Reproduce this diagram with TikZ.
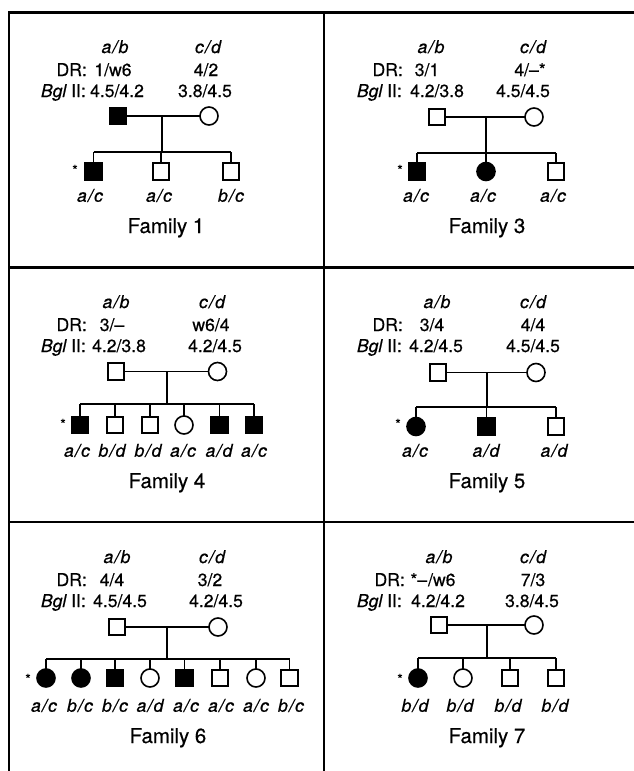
\documentclass[tikz,border=0pt]{standalone}
\usepackage{fontspec}
\setmainfont{TeX Gyre Heros}[FakeBold=0.5]
% genotype pair with the slash set a little apart
\newcommand\gt[2]{#1\kern1.2pt/\kern1.2pt#2}
\begin{document}
\begin{tikzpicture}[x=1pt,y=-1pt,
  sym/.style={draw, line width=1.6pt, inner sep=0pt, outer sep=0pt},
  male/.style={sym, rectangle, minimum size=16.5pt},
  female/.style={sym, circle, minimum size=18pt},
  aff/.style={fill=black},
  body/.style={font=\fontsize{17.6}{21}\selectfont, inner sep=0pt, anchor=base},
  geno/.style={body, font=\fontsize{17.6}{21}\selectfont\itshape},
  lab/.style={body, anchor=base east},
  title/.style={body, font=\fontsize{20.5}{24}\selectfont},
  proband/.style={font=\fontsize{14}{14}\selectfont, inner sep=0pt, anchor=base},
  pline/.style={line width=1.8pt},
  frame/.style={line width=2.2pt}]
\useasboundingbox (0,0) rectangle (634,771);

% panel frame
\draw[frame] (9,771) -- (9,12.5) -- (634,12.5);
\draw[frame] (324,12.5) -- (324,771);
\draw[frame] (9,267.5) -- (634,267.5);
\draw[frame] (9,522) -- (634,522);

% ---------------- Family 1 ----------------
\node[geno] (f1ab) at (115,53) {\gt ab};
\node[geno] (f1cd) at (208,53) {\gt cd};
\node[lab]  (f1dr) at (87,76) {DR:};
\node[body] (f1d1) at (113,76) {1/w6};
\node[body] (f1d2) at (206,76) {4/2};
\node[lab]  (f1bg) at (86,97) {{\itshape Bgl} II:};
\node[body] (f1b1) at (117,97) {4.5/4.2};
\node[body] (f1b2) at (205,97) {3.8/4.5};
\node[male,aff] (f1fa) at (118,116) {};
\node[female] (f1mo) at (209,116) {};
\coordinate (f1m) at (162,116);
\coordinate (f1s) at (162,152);
\node[male,aff] (f1c1) at (93.5,171.5) {};
\node[male] (f1c2) at (161,171.5) {};
\node[male] (f1c3) at (231,171.5) {};
\node[proband] (f1p) at (75,175) {*};
\draw[pline] (f1fa) -- (f1mo);
\draw[pline] (f1m) -- (f1s);
\draw[pline] (f1c1.north |- f1s) -- (f1c3.north |- f1s);
\foreach \k in {1,2,3} \draw[pline] (f1c\k.north |- f1s) -- (f1c\k.north);
\node[geno] (f1g1) at (90,201.7) {\gt ac};
\node[geno] (f1g2) at (159,201.7) {\gt ac};
\node[geno] (f1g3) at (231,201.7) {\gt bc};
\node[title] (f1t) at (166,233) {Family 1};

% ---------------- Family 3 ----------------
\node[geno] (f3ab) at (431,53) {\gt ab};
\node[geno] (f3cd) at (533,53) {\gt cd};
\node[lab]  (f3dr) at (403,76) {DR:};
\node[body] (f3d1) at (427,76) {3/1};
\node[body] (f3d2) at (530,76) {4/–*};
\node[lab]  (f3bg) at (402,97) {{\itshape Bgl} II:};
\node[body] (f3b1) at (437,97) {4.2/3.8};
\node[body] (f3b2) at (523,97) {4.5/4.5};
\node[male] (f3fa) at (437,117) {};
\node[female] (f3mo) at (534,117) {};
\coordinate (f3m) at (486,117);
\coordinate (f3s) at (486,153);
\node[male,aff] (f3c1) at (417,171.5) {};
\node[female,aff] (f3c2) at (486,171.5) {};
\node[male] (f3c3) at (556,171.5) {};
\node[proband] (f3p) at (400,175) {*};
\draw[pline] (f3fa) -- (f3mo);
\draw[pline] (f3m) -- (f3s);
\draw[pline] (f3c1.north |- f3s) -- (f3c3.north |- f3s);
\foreach \k in {1,2,3} \draw[pline] (f3c\k.north |- f3s) -- (f3c\k.north);
\node[geno] (f3g1) at (416,201.7) {\gt ac};
\node[geno] (f3g2) at (483,201.7) {\gt ac};
\node[geno] (f3g3) at (553,201.7) {\gt ac};
\node[title] (f3t) at (487,233) {Family 3};

% ---------------- Family 4 ----------------
\node[geno] (f4ab) at (116,308) {\gt ab};
\node[geno] (f4cd) at (212,308) {\gt cd};
\node[lab]  (f4dr) at (87,331) {DR:};
\node[body] (f4d1) at (112,331) {3/–};
\node[body] (f4d2) at (211,331) {w6/4};
\node[lab]  (f4bg) at (86,352) {{\itshape Bgl} II:};
\node[body] (f4b1) at (119,352) {4.2/3.8};
\node[body] (f4b2) at (215,352) {4.2/4.5};
\node[male] (f4fa) at (116,371.5) {};
\node[female] (f4mo) at (217.5,371.5) {};
\coordinate (f4m) at (167,371.5);
\coordinate (f4s) at (167,404);
\node[male,aff] (f4c1) at (80,425) {};
\node[male] (f4c2) at (115,425) {};
\node[male] (f4c3) at (150,425) {};
\node[female] (f4c4) at (184,425) {};
\node[male,aff] (f4c5) at (219.5,425) {};
\node[male,aff] (f4c6) at (254,425) {};
\node[proband] (f4p) at (63,429) {*};
\draw[pline] (f4fa) -- (f4mo);
\draw[pline] (f4m) -- (f4s);
\draw[pline] (f4c1.north |- f4s) -- (f4c6.north |- f4s);
\foreach \k in {1,...,6} \draw[pline] (f4c\k.north |- f4s) -- (f4c\k.north);
\node[geno] (f4g1) at (77,456.7) {\gt ac};
\node[geno] (f4g2) at (112,456.7) {\gt bd};
\node[geno] (f4g3) at (148,456.7) {\gt bd};
\node[geno] (f4g4) at (183,456.7) {\gt ac};
\node[geno] (f4g5) at (219,456.7) {\gt ad};
\node[geno] (f4g6) at (254,456.7) {\gt ac};
\node[title] (f4t) at (167,488) {Family 4};

% ---------------- Family 5 ----------------
\node[geno] (f5ab) at (437,308) {\gt ab};
\node[geno] (f5cd) at (533,308) {\gt cd};
\node[lab]  (f5dr) at (403,331) {DR:};
\node[body] (f5d1) at (432,331) {3/4};
\node[body] (f5d2) at (533,331) {4/4};
\node[lab]  (f5bg) at (402,352) {{\itshape Bgl} II:};
\node[body] (f5b1) at (436,352) {4.2/4.5};
\node[body] (f5b2) at (533,352) {4.5/4.5};
\node[male] (f5fa) at (438,372.5) {};
\node[female] (f5mo) at (536,372.5) {};
\coordinate (f5m) at (487,372.5);
\coordinate (f5s) at (487,407);
\node[female,aff] (f5c1) at (416,426.5) {};
\node[male,aff] (f5c2) at (486.5,426.5) {};
\node[male] (f5c3) at (556,426.5) {};
\node[proband] (f5p) at (398,429) {*};
\draw[pline] (f5fa) -- (f5mo);
\draw[pline] (f5m) -- (f5s);
\draw[pline] (f5c1.north |- f5s) -- (f5c3.north |- f5s);
\foreach \k in {1,2,3} \draw[pline] (f5c\k.north |- f5s) -- (f5c\k.north);
\node[geno] (f5g1) at (415,456.7) {\gt ac};
\node[geno] (f5g2) at (486,456.7) {\gt ad};
\node[geno] (f5g3) at (554,456.7) {\gt ad};
\node[title] (f5t) at (487,488) {Family 5};

% ---------------- Family 6 ----------------
\node[geno] (f6ab) at (117,563) {\gt ab};
\node[geno] (f6cd) at (212,563) {\gt cd};
\node[lab]  (f6dr) at (87,586) {DR:};
\node[body] (f6d1) at (112,586) {4/4};
\node[body] (f6d2) at (210,586) {3/2};
\node[lab]  (f6bg) at (86,607) {{\itshape Bgl} II:};
\node[body] (f6b1) at (120,607) {4.5/4.5};
\node[body] (f6b2) at (216,607) {4.2/4.5};
\node[male] (f6fa) at (117,627) {};
\node[female] (f6mo) at (218,627) {};
\coordinate (f6m) at (167,627);
\coordinate (f6s) at (167,659);
\node[female,aff] (f6c1) at (46,678) {};
\node[female,aff] (f6c2) at (81,678) {};
\node[male,aff] (f6c3) at (115,678) {};
\node[female] (f6c4) at (150,678) {};
\node[male,aff] (f6c5) at (184.5,678) {};
\node[male] (f6c6) at (220,678) {};
\node[female] (f6c7) at (256,678) {};
\node[male] (f6c8) at (289.5,678) {};
\node[proband] (f6p) at (28,684) {*};
\draw[pline] (f6fa) -- (f6mo);
\draw[pline] (f6m) -- (f6s);
\draw[pline] (f6c1.north |- f6s) -- (f6c8.north |- f6s);
\foreach \k in {1,...,8} \draw[pline] (f6c\k.north |- f6s) -- (f6c\k.north);
\node[geno] (f6g1) at (44,711.7) {\gt ac};
\node[geno] (f6g2) at (80,711.7) {\gt bc};
\node[geno] (f6g3) at (115,711.7) {\gt bc};
\node[geno] (f6g4) at (150,711.7) {\gt ad};
\node[geno] (f6g5) at (186,711.7) {\gt ac};
\node[geno] (f6g6) at (221,711.7) {\gt ac};
\node[geno] (f6g7) at (256,711.7) {\gt ac};
\node[geno] (f6g8) at (291,711.7) {\gt bc};
\node[title] (f6t) at (168,743) {Family 6};

% ---------------- Family 7 ----------------
\node[geno] (f7ab) at (439,563) {\gt ab};
\node[geno] (f7cd) at (533,563) {\gt cd};
\node[lab]  (f7dr) at (405,586) {DR:};
\node[body] (f7d1) at (433,586) {*–\kern1pt/w6};
\node[body] (f7d2) at (533,586) {7/3};
\node[lab]  (f7bg) at (402,607) {{\itshape Bgl} II:};
\node[body] (f7b1) at (438,607) {4.2/4.2};
\node[body] (f7b2) at (532,607) {3.8/4.5};
\node[male] (f7fa) at (439,625) {};
\node[female] (f7mo) at (534,625) {};
\coordinate (f7m) at (487,625);
\coordinate (f7s) at (487,658);
\node[female,aff] (f7c1) at (418,678) {};
\node[female] (f7c2) at (463,678) {};
\node[male] (f7c3) at (510,678) {};
\node[male] (f7c4) at (556,678) {};
\node[proband] (f7p) at (400,684) {*};
\draw[pline] (f7fa) -- (f7mo);
\draw[pline] (f7m) -- (f7s);
\draw[pline] (f7c1.north |- f7s) -- (f7c4.north |- f7s);
\foreach \k in {1,...,4} \draw[pline] (f7c\k.north |- f7s) -- (f7c\k.north);
\node[geno] (f7g1) at (415,711.7) {\gt bd};
\node[geno] (f7g2) at (460,711.7) {\gt bd};
\node[geno] (f7g3) at (508,711.7) {\gt bd};
\node[geno] (f7g4) at (555,711.7) {\gt bd};
\node[title] (f7t) at (487,743) {Family 7};
\end{tikzpicture}
\end{document}
